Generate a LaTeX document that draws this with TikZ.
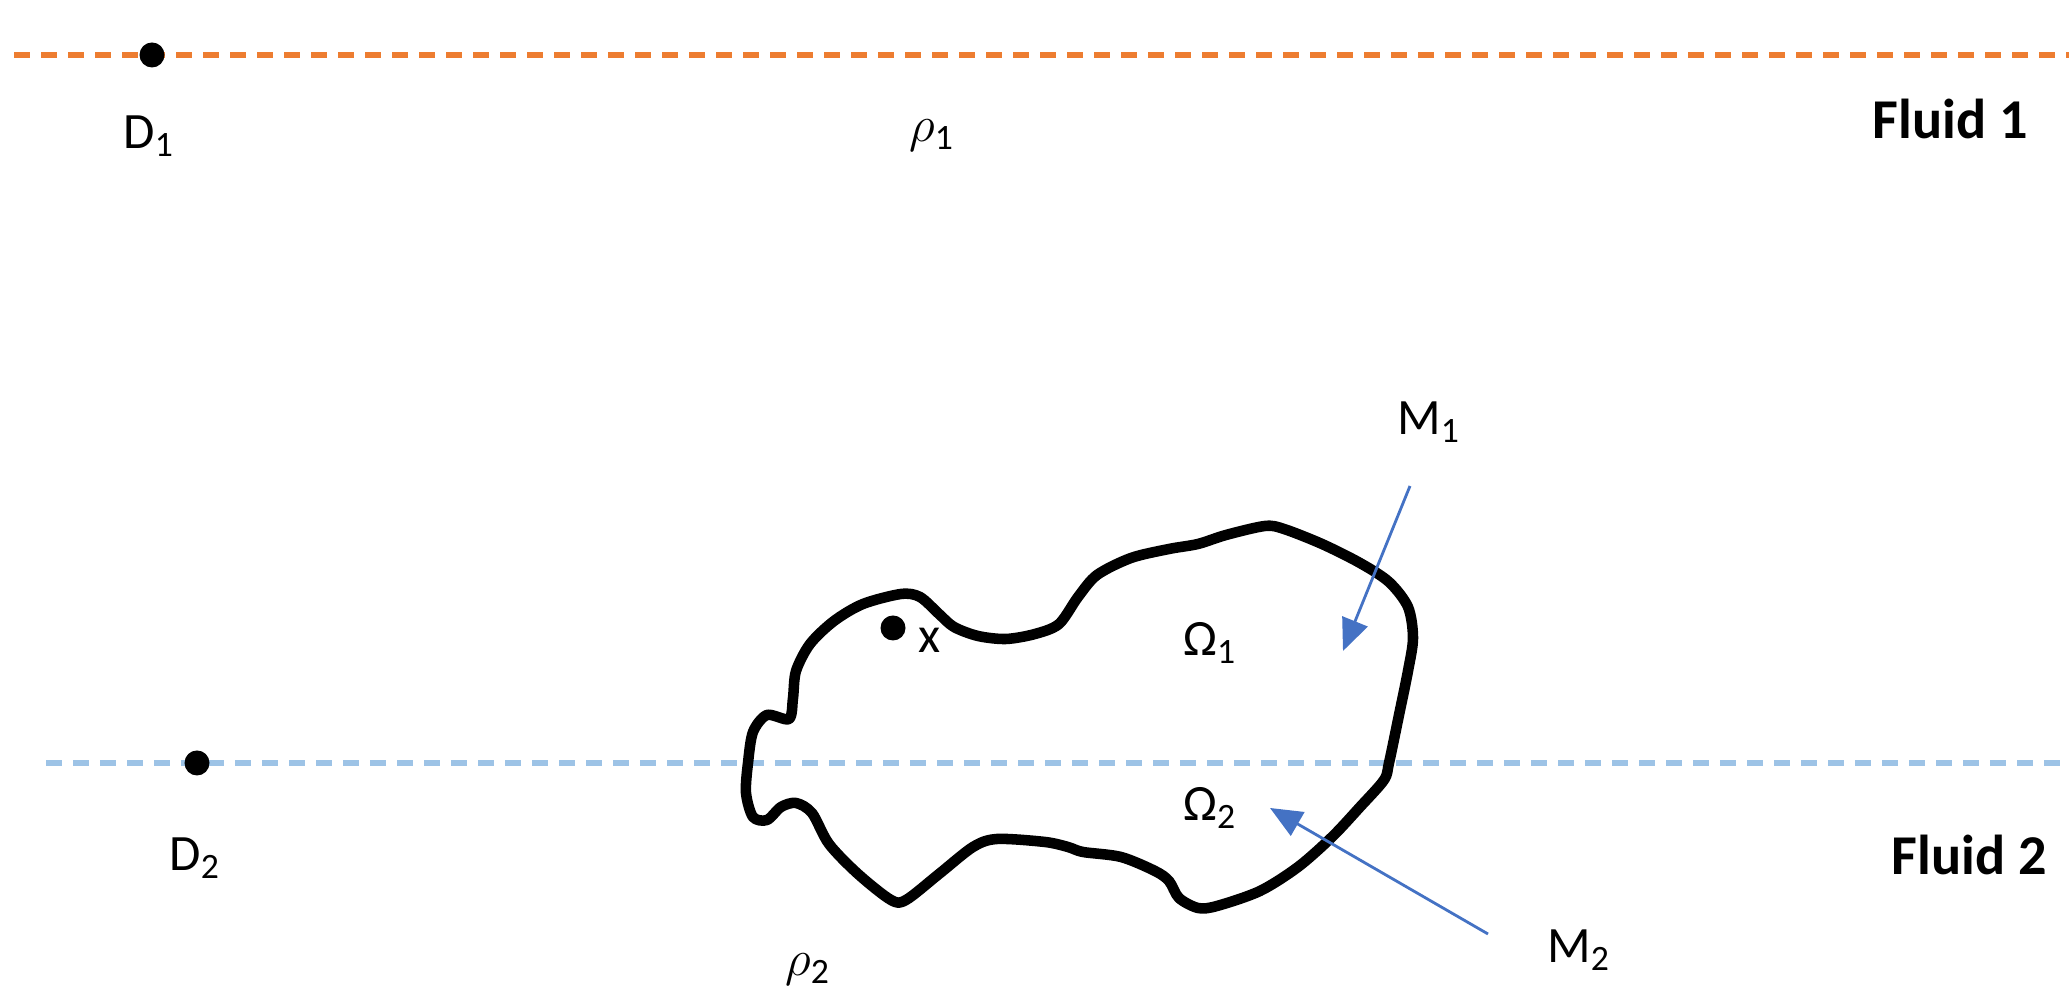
\documentclass[tikz,border=0pt]{standalone}
\usepackage{fontspec}
\setmainfont{Carlito}
\usetikzlibrary{arrows.meta}

\definecolor{fluidorange}{HTML}{ED7D31}
\definecolor{fluidblue}{HTML}{9DC3E6}
\definecolor{pointerblue}{HTML}{4472C4}

\begin{document}
\begin{tikzpicture}[x=1cm,y=1cm,
  lbl/.style={font=\fontsize{14.5}{17}\selectfont, inner sep=0pt},
  fluidlbl/.style={font=\fontsize{16}{19}\selectfont\bfseries, inner sep=0pt},
  interface/.style={line width=1.5pt, dash pattern=on 0.16cm off 0.11cm},
  pointer/.style={pointerblue, line width=0.8pt, -{Triangle[length=0.32cm,width=0.27cm]}}]

\useasboundingbox (0,0) rectangle (20.69,9.91);

\coordinate (D1) at (1.52,9.36);
\coordinate (D2) at (1.97,2.28);
\coordinate (X) at (8.93,3.63);

% interfaces between the fluids
\draw [interface, fluidorange] (0.14,9.36) -- (20.69,9.36);
\draw [interface, fluidblue] (0.46,2.28) -- (20.69,2.28);

% the body
\draw [line width=3pt, line join=round] plot [smooth cycle, tension=0.5] coordinates {
  (7.48,2.28) (7.53,2.59) (7.67,2.76) (7.89,2.72) (7.93,2.93) (7.96,3.20)
  (8.10,3.47) (8.34,3.70) (8.63,3.87) (9.01,3.97) (9.20,3.94) (9.39,3.77)
  (9.54,3.64) (9.78,3.55) (10.06,3.52) (10.35,3.57) (10.59,3.67) (10.78,3.94)
  (10.97,4.16) (11.31,4.33) (11.69,4.42) (11.98,4.47) (12.26,4.56) (12.65,4.65)
  (12.84,4.62) (13.22,4.47) (13.60,4.28) (13.89,4.09) (14.08,3.84) (14.13,3.53)
  (14.08,3.20) (13.99,2.76) (13.89,2.28) (13.84,2.11) (13.60,1.84) (13.32,1.54)
  (12.98,1.24) (12.60,1.00) (12.17,0.85) (11.98,0.83) (11.79,0.93) (11.69,1.10)
  (11.55,1.20) (11.21,1.34) (10.83,1.39) (10.68,1.44) (10.45,1.49) (9.97,1.52)
  (9.73,1.44) (9.39,1.17) (9.06,0.91) (8.91,0.91) (8.58,1.17) (8.29,1.47)
  (8.12,1.78) (7.96,1.88) (7.81,1.84) (7.67,1.71) (7.53,1.74) (7.46,1.98)};

\foreach \p in {D1,D2,X}
    \fill (\p) circle (0.125);

\node [lbl] (d1) at (1.49,8.55) {D\textsubscript{1}};
\node [lbl] (d2) at (1.95,1.33) {D\textsubscript{2}};
\node [lbl] (rho1) at (9.32,8.55) {$\rho$\textsubscript{1}};
\node [lbl] (rho2) at (8.08,0.21) {$\rho$\textsubscript{2}};
\node [lbl] (xlbl) at (9.30,3.51) {x};
\node [lbl] (om1) at (12.10,3.48) {Ω\textsubscript{1}};
\node [lbl] (om2) at (12.10,1.83) {Ω\textsubscript{2}};
\node [lbl] (m1) at (14.29,5.69) {M\textsubscript{1}};
\node [lbl] (m2) at (15.79,0.41) {M\textsubscript{2}};
\node [fluidlbl] (f1) at (19.50,8.72) {Fluid 1};
\node [fluidlbl] (f2) at (19.69,1.36) {Fluid 2};

% pointers
\coordinate (m1s) at (14.10,5.05);
\coordinate (m1e) at (13.43,3.40);
\coordinate (m2s) at (14.88,0.57);
\coordinate (m2e) at (12.70,1.83);
\draw [pointer] (m1s) -- (m1e);
\draw [pointer] (m2s) -- (m2e);

\end{tikzpicture}
\end{document}
